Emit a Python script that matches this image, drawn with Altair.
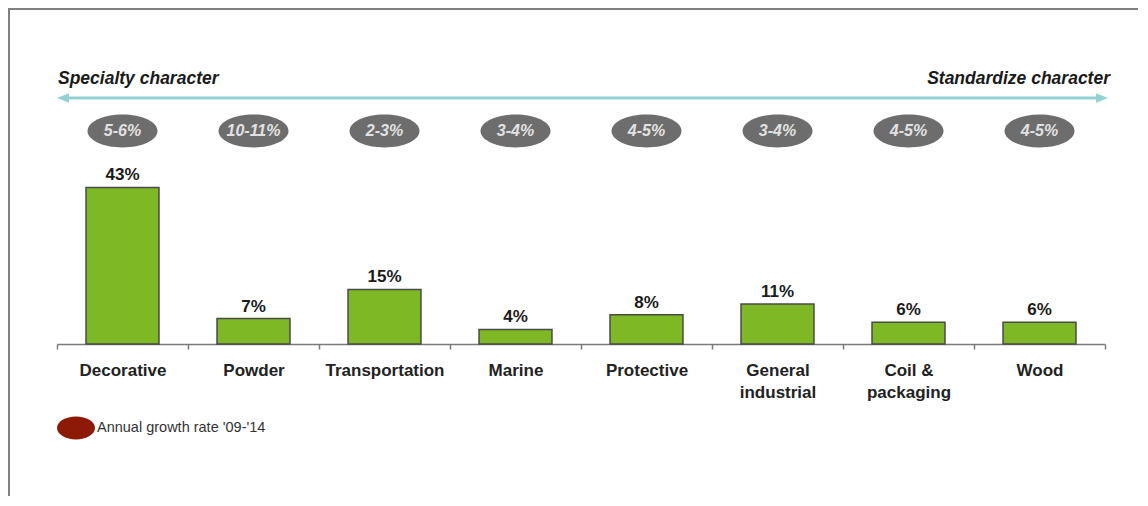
import altair as alt
import pandas as pd

categories = ["Decorative", "Powder", "Transportation", "Marine", "Protective",
              "General\nindustrial", "Coil &\npackaging", "Wood"]
market_share = [43, 7, 15, 4, 8, 11, 6, 6]
growth_rates = ["5-6%", "10-11%", "2-3%", "3-4%", "4-5%", "3-4%", "4-5%", "4-5%"]
left_label = ["Specialty character"]
right_label = ["Standardize character"]
legend_label = ["Annual growth rate '09-'14"]

FONT = "Liberation Sans"
GREEN = "#7fb825"
GREY_ELLIPSE = "#6d6d6d"
TEAL = "#94d1d3"
DARK_RED = "#8c1a06"

ELLIPSE_GROWTH = "M -1 0 A 1 0.47 0 1 1 1 0 A 1 0.47 0 1 1 -1 0 Z"
ELLIPSE_LEGEND = "M -1 0 A 1 0.6 0 1 1 1 0 A 1 0.6 0 1 1 -1 0 Z"
ARROW_LEFT = "M -1 0 L 1 -0.8 L 1 0.8 Z"
ARROW_RIGHT = "M 1 0 L -1 -0.8 L -1 0.8 Z"

df = pd.DataFrame({"segment": categories, "share": market_share, "growth": growth_rates})
df["share_label"] = [f"{v}%" for v in market_share]

x_enc = alt.X(
    "segment:N",
    sort=categories,
    scale=alt.Scale(paddingInner=0, paddingOuter=0),
    axis=alt.Axis(
        title=None,
        labelAngle=0,
        labelExpr="isString(datum.value) ? split(datum.value, '\\n') : ''",
        labelFont=FONT,
        labelFontSize=17,
        labelFontWeight="bold",
        labelColor="#222222",
        labelPadding=13,
        labelLineHeight=22,
        labelBaseline="top",
        domainColor="#7a7a7a",
        domainWidth=1.5,
        tickColor="#7a7a7a",
        tickWidth=1.5,
        tickSize=5,
        tickBand="extent",
        grid=False,
    ),
)
y_enc = alt.Y("share:Q", scale=alt.Scale(domain=[0, 78]), axis=None)

base = alt.Chart(df)

bars = base.mark_bar(
    color=GREEN, stroke="#4a4a4a", strokeWidth=1.5, width=alt.RelativeBandSize(0.557)
).encode(x=x_enc, y=y_enc)
bar_text = base.mark_text(
    baseline="bottom", dy=-3, font=FONT, fontSize=17, fontWeight="bold", color="#1a1a1a"
).encode(x=x_enc, y=y_enc, text="share_label:N")

ellipses = base.mark_point(
    shape=ELLIPSE_GROWTH, size=4900, filled=True, color=GREY_ELLIPSE, opacity=1
).encode(x=x_enc, y=alt.value(71))
ellipse_text = base.mark_text(
    font=FONT, fontSize=16, fontWeight="bold", fontStyle="italic", color="#e2e2e2"
).encode(x=x_enc, y=alt.value(71), text="growth:N")

one = pd.DataFrame({"k": [0]})

left_text = alt.Chart(pd.DataFrame({"t": left_label})).mark_text(
    align="left", font=FONT, fontSize=17.5, fontWeight="bold", fontStyle="italic", color="#1a1a1a"
).encode(x=alt.value(1), y=alt.value(19), text="t:N")
right_text = alt.Chart(pd.DataFrame({"t": right_label})).mark_text(
    align="right", font=FONT, fontSize=17.5, fontWeight="bold", fontStyle="italic", color="#1a1a1a"
).encode(x=alt.value(1053), y=alt.value(19), text="t:N")

arrow_line = alt.Chart(one).mark_rule(color=TEAL, strokeWidth=3).encode(
    x=alt.value(8), x2=alt.value(1043), y=alt.value(38)
)
arrow_l = alt.Chart(one).mark_point(
    shape=ARROW_LEFT, size=144, filled=True, color=TEAL, opacity=1
).encode(x=alt.value(6), y=alt.value(38))
arrow_r = alt.Chart(one).mark_point(
    shape=ARROW_RIGHT, size=144, filled=True, color=TEAL, opacity=1
).encode(x=alt.value(1045), y=alt.value(38))

legend_dot = alt.Chart(one).mark_point(
    shape=ELLIPSE_LEGEND, size=1444, filled=True, color=DARK_RED, opacity=1
).encode(x=alt.value(19), y=alt.value(368))
legend_text = alt.Chart(pd.DataFrame({"t": legend_label})).mark_text(
    align="left", font=FONT, fontSize=14.5, color="#333333"
).encode(x=alt.value(40), y=alt.value(368), text="t:N")

border_top = alt.Chart(one).mark_rule(color="#808080", strokeWidth=2).encode(
    x=alt.value(-49), x2=alt.value(1100), y=alt.value(-51)
)
border_left = alt.Chart(one).mark_rule(color="#808080", strokeWidth=2).encode(
    x=alt.value(-48), y=alt.value(-52), y2=alt.value(450)
)

chart = alt.layer(
    border_top, border_left,
    arrow_line, arrow_l, arrow_r, left_text, right_text,
    ellipses, ellipse_text,
    bars, bar_text,
    legend_dot, legend_text,
).properties(
    width=1048,
    height=284,
    autosize=alt.AutoSizeParams(type="none"),
    padding={"left": 49, "top": 52, "right": 33, "bottom": 152},
).configure(font=FONT).configure_view(stroke=None)

chart.save("out.html", embed_options={"renderer": "svg", "actions": False})
